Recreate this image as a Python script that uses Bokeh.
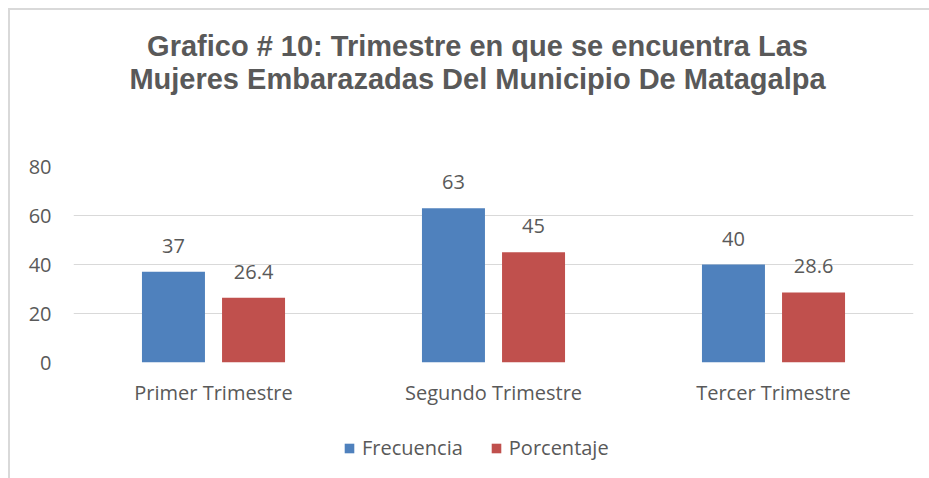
from bokeh.plotting import figure
from bokeh.layouts import column
from bokeh.models import (ColumnDataSource, FactorRange, Range1d, FixedTicker,
                          Legend, LegendItem, Label)
from bokeh.transform import dodge
from bokeh.embed import file_html
from bokeh.resources import INLINE
from bokeh.core.properties import value

# ---- data ----
categories = ["Primer Trimestre", "Segundo Trimestre", "Tercer Trimestre"]
frecuencia = [37, 63, 40]
porcentaje = [26.4, 45, 28.6]
series_names = ["Frecuencia", "Porcentaje"]
y_ticks = [0, 20, 40, 60, 80]
title_lines = ["Grafico # 10: Trimestre en que se encuentra Las",
               "Mujeres Embarazadas Del Municipio De Matagalpa"]

TEXT = "#595959"
FONT = "Open Sans"
BLUE = "#4F81BD"
RED = "#C0504D"
W = 919
FW = 840  # frame width shared by the column (frames are aligned)


def bare(fig):
    fig.axis.visible = False
    fig.grid.visible = False
    fig.outline_line_color = None
    fig.border_fill_color = "white"
    fig.background_fill_color = "white"
    return fig


# ---- title strip ----
TH = 136
pt = bare(figure(width=W, height=TH, x_range=Range1d(0, FW), y_range=Range1d(0, TH),
                 output_backend="svg", toolbar_location=None, title=None,
                 min_border=0))
for txt, yy in zip(title_lines, (101, 68)):
    pt.add_layout(Label(x=404, y=yy, text=txt, text_align="center",
                        text_baseline="alphabetic", text_font="Liberation Sans",
                        text_font_style="bold", text_font_size="29px",
                        text_color=TEXT))

# ---- main chart ----
src = ColumnDataSource(dict(
    cat=categories,
    f=frecuencia,
    p=porcentaje,
    fl=[str(v) for v in frecuencia],
    pl=[str(v) for v in porcentaje],
))

p = figure(x_range=FactorRange(*categories), y_range=Range1d(0, 80),
           width=W, height=276, output_backend="svg", toolbar_location=None,
           title=None,
           min_border_left=63, min_border_right=16,
           min_border_top=20, min_border_bottom=60)
p.outline_line_color = None
p.background_fill_color = "white"
p.border_fill_color = "white"

off = 0.143
bw = 0.225
r1 = p.vbar(x=dodge("cat", -off, range=p.x_range), top="f", width=bw, source=src,
            fill_color=BLUE, line_color=None)
r2 = p.vbar(x=dodge("cat", off, range=p.x_range), top="p", width=bw, source=src,
            fill_color=RED, line_color=None)

for key, lab, o in (("f", "fl", -off), ("p", "pl", off)):
    p.text(x=dodge("cat", o, range=p.x_range), y=key, text=lab, source=src,
           text_align="center", text_baseline="alphabetic", y_offset=-26,
           text_font=value(FONT), text_font_size="20px", text_color=TEXT)

for ax in (p.xaxis, p.yaxis):
    ax.axis_line_color = None
    ax.major_tick_line_color = None
    ax.minor_tick_line_color = None
    ax.major_label_text_font = FONT
    ax.major_label_text_font_size = "20px"
    ax.major_label_text_color = TEXT
p.yaxis.ticker = FixedTicker(ticks=y_ticks)
p.yaxis.major_label_standoff = 16
p.xaxis.major_label_standoff = 10

p.xgrid.grid_line_color = None
p.ygrid.grid_line_color = "#D9D9D9"
p.ygrid.grid_line_width = 1

# ---- legend strip ----
LH = 56
pl = bare(figure(width=W, height=LH, x_range=Range1d(0, 1), y_range=Range1d(0, 1),
                 output_backend="svg", toolbar_location=None, title=None,
                 min_border=0))
# swatch renderers for the legend (zero-height, nothing visible is drawn)
k1 = pl.vbar(x=[-5], top=[0], width=0.1, fill_color=BLUE, line_color=None)
k2 = pl.vbar(x=[-5], top=[0], width=0.1, fill_color=RED, line_color=None)
legend = Legend(items=[LegendItem(label=series_names[0], renderers=[k1]),
                       LegendItem(label=series_names[1], renderers=[k2])],
                orientation="horizontal", location=(270, 17),
                glyph_width=12, glyph_height=12, label_standoff=7, spacing=27,
                padding=0, margin=0, border_line_color=None,
                background_fill_alpha=0, label_height=12,
                label_text_font=FONT, label_text_font_size="20px",
                label_text_color=TEXT)
pl.add_layout(legend, "center")

layout = column(pt, p, pl, spacing=0)
layout.styles = {"margin-left": "8px", "margin-top": "8px",
                 "border-left": "2px solid #D9D9D9",
                 "border-top": "2px solid #D9D9D9"}

open("out.html", "w").write(file_html(layout, INLINE))
